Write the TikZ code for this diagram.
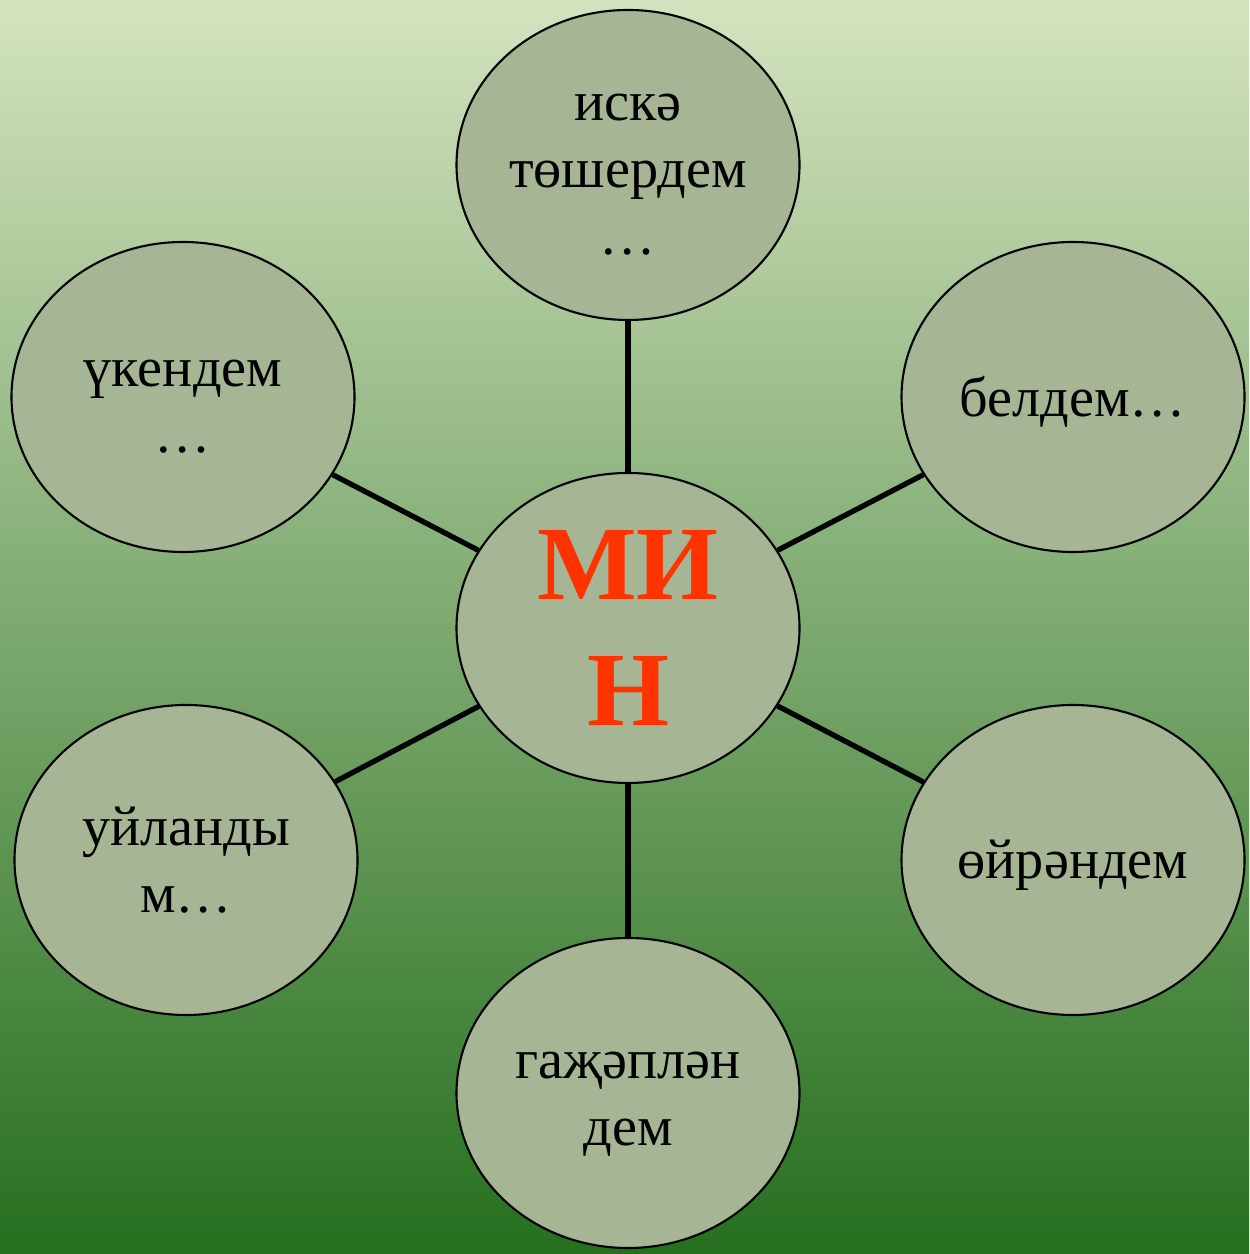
\documentclass[tikz,border=0pt]{standalone}
\usepackage{fontspec}
\setmainfont{Liberation Serif}
\usepackage{tikz}
\usepackage{xcolor}
\usetikzlibrary{shapes.geometric}

\definecolor{bgtop}{HTML}{D4E3BF}
\definecolor{bgmid}{HTML}{A0C070}
\definecolor{bgbot}{HTML}{266F1F}
\definecolor{bubble}{HTML}{A6B593}
\definecolor{minred}{HTML}{FF3300}

\begin{document}
\begin{tikzpicture}[every node/.style={ellipse, draw, line width=0.6pt, fill=bubble, minimum width=3.43cm, minimum height=3.1cm, inner sep=0pt, align=center, font=\fontsize{16}{19}\selectfont}]
        \useasboundingbox (0,0) rectangle (12.49,12.54);
        \shade[top color=bgtop, middle color=bgmid, bottom color=bgbot] (0,0) rectangle (12.49,12.54);

        \node (min) at (6.28,6.26) [text=minred, font=\fontsize{30}{36}\selectfont\bfseries] {МИ\\Н};
        \node (iska) at (6.28,10.89) [text height=51pt] {искә\\төшердем\\…};
        \node (beldem) at (10.73,8.57) [text height=14pt] {белдем…};
        \node (oyrandem) at (10.73,3.94) [text height=14pt] {өйрәндем};
        \node (gajap) at (6.28,1.61) [text height=33pt] {гаҗәплән\\дем};
        \node (uyland) at (1.86,3.94) {уйланды\\м…};
        \node (ukendem) at (1.83,8.57) [text height=32pt] {үкендем\\…};

        \draw [line width=1.5pt] (min) -- (iska);
        \draw [line width=1.5pt] (min) -- (beldem);
        \draw [line width=1.5pt] (min) -- (oyrandem);
        \draw [line width=1.5pt] (min) -- (gajap);
        \draw [line width=1.5pt] (min) -- (uyland);
        \draw [line width=1.5pt] (min) -- (ukendem);
    \end{tikzpicture}
\end{document}
